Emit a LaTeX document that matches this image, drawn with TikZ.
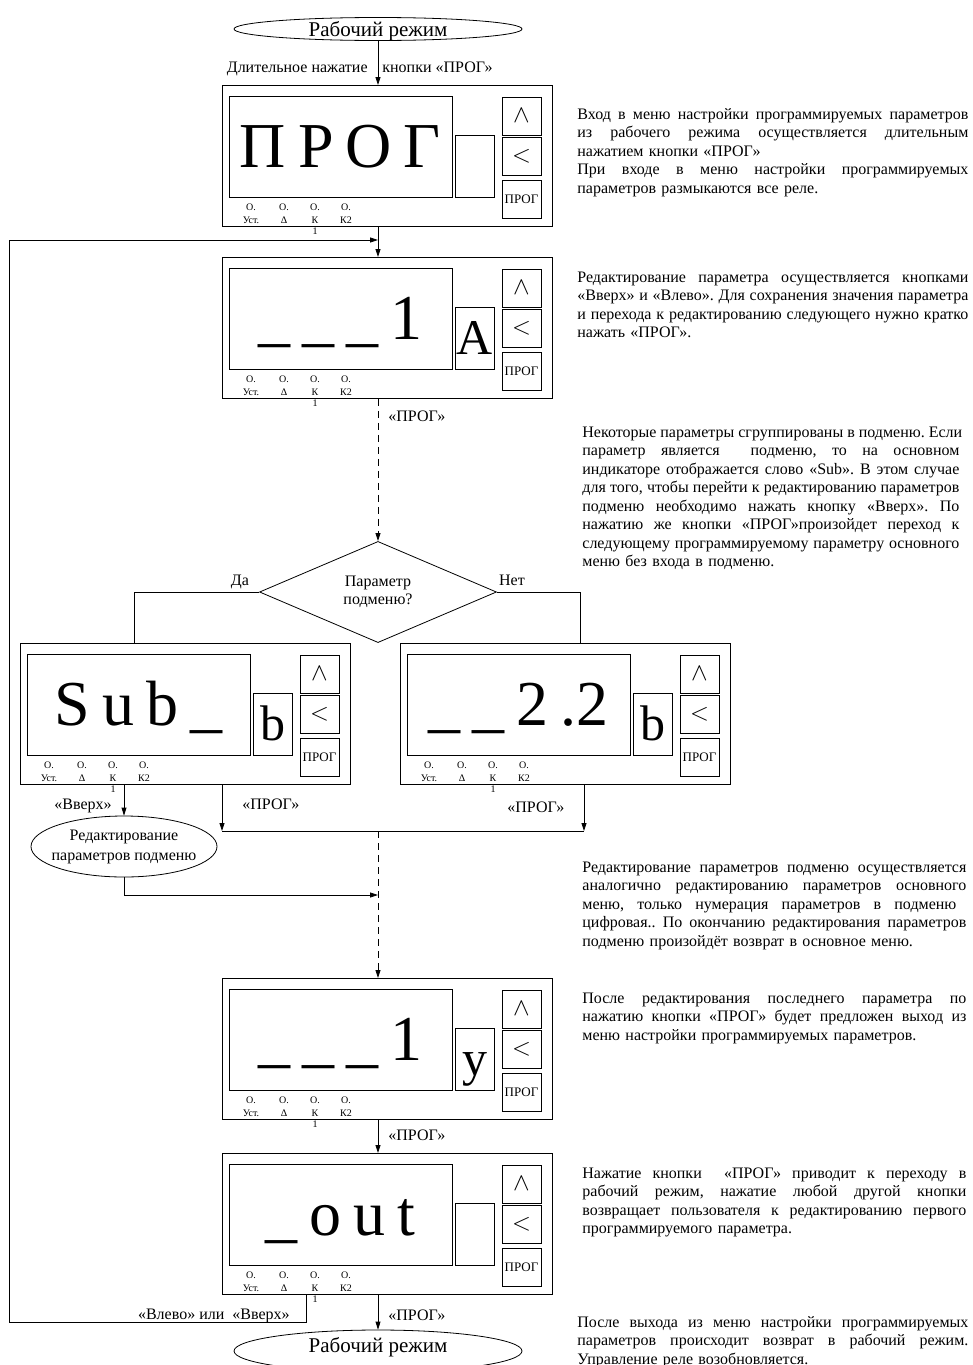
\documentclass[tikz,border=0pt]{standalone}
\usepackage{fontspec}
\setmainfont{Liberation Serif}
\usetikzlibrary{shapes.geometric,arrows.meta}
\newlength{\stroka}
\newcommand*{\jl}[1]{\leavevmode\hbox to\stroka{\spaceskip=\fontdimen2\font plus 1fil\relax #1}}
\newcommand*{\pribor}[5]{%
  \node[korpus] (#1) at (#2,#3) {};
  \begin{scope}[shift={(#2,#3)}]
    \node[tablo] (#1-tablo) at (118.5,61.5) {#4};
    \node[okno] (#1-okno) at (252.5,81) {#5};
    \node[knopka] (#1-up) at (299.5,31) {$\wedge$};
    \node[knopka] (#1-left) at (299.5,71.5) {$<$};
    \node[knopka, font=\fontsize{13}{13}\selectfont] (#1-prog) at (299.5,114) {ПРОГ};
    \foreach \x/\t [count=\i] in {29/Уст., 62/Δ, 93/{К\\1}, 124/К2}
    {
      \node[led] (#1-led\i) at (\x,125) {O.};
      \node[ledlabel] (#1-lab\i) at (\x,131.5) {\t};
    }
  \end{scope}}

\begin{document}
\begin{tikzpicture}[x=1pt, y=-1pt, line width=0.8pt]
  \tikzstyle{korpus}=[draw, anchor=north west, inner sep=0pt, minimum width=330pt, minimum height=141pt]
  \tikzstyle{tablo}=[draw, inner sep=0pt, minimum width=223pt, minimum height=101pt,
    text height=42pt, text depth=0pt, font={\fontsize{64}{64}\selectfont\spaceskip=12pt\relax}]
  \tikzstyle{okno}=[draw, inner sep=0pt, minimum width=39pt, minimum height=62pt,
    text height=33pt, text depth=0pt, font=\fontsize{50}{50}\selectfont]
  \tikzstyle{knopka}=[draw, inner sep=0pt, minimum width=39pt, minimum height=38pt, font=\fontsize{30}{30}\selectfont]
  \tikzstyle{led}=[anchor=base, inner sep=0pt, font=\fontsize{10}{12}\selectfont]
  \tikzstyle{ledlabel}=[anchor=north, inner sep=0pt, align=center, font=\fontsize{10}{11.5}\selectfont]
  \tikzstyle{lbl}=[inner sep=0pt, font=\fontsize{16}{18.5}\selectfont]
  \tikzset{desc/.style={anchor=base west, inner sep=0pt, align=left, text width=#1,
    font=\fontsize{16}{18.5}\selectfont\frenchspacing\setlength{\stroka}{#1}}}
  \tikzstyle{rezhim}=[draw, ellipse, inner sep=0pt, minimum width=288pt, minimum height=23pt,
    text height=14pt, text depth=0pt, font=\fontsize{21}{21}\selectfont]
  \tikzstyle{arr}=[-{Triangle[length=8pt,width=5pt]}]
  \tikzstyle{punktir}=[dash pattern=on 7pt off 5pt]

  \useasboundingbox (0,0) rectangle (973,1365);

  \coordinate (axis) at (378,0);
  \coordinate (loop) at (378,240);
  \coordinate (back) at (9,1322);
  \coordinate (kk) at (306,0);
  \coordinate (da) at (134,0);
  \coordinate (net) at (580,0);
  \coordinate (ml) at (222,831);
  \coordinate (mr) at (584,831);
  \coordinate (merge) at (378,831);
  \coordinate (join) at (378,895);

  \node[rezhim] (work1) at (378,29) {Рабочий режим};
  \pribor{b1}{222}{85}{П Р О Г}{}
  \pribor{b2}{222}{257}{\_ \_ \_ 1}{A}
  \node[draw, diamond, inner sep=0pt, minimum width=237pt, minimum height=89pt, align=center,
    font=\fontsize{16}{18.5}\selectfont] (q) at (378,592) {Параметр\\подменю?};
  \pribor{bs}{20}{643}{S u b \_}{b}
  \pribor{bd}{400}{643}{\_ \_ 2 .2}{b}
  \node[draw, ellipse, inner xsep=-8pt, inner ysep=0pt, minimum width=186pt, minimum height=61pt,
    align=center, font=\fontsize{16}{20}\selectfont] (subedit) at (124,846.5) {Редактирование\\параметров подменю};
  \pribor{b5}{222}{978}{\_ \_ \_ 1}{y}
  \pribor{b6}{222}{1153}{\_ o u t}{}
  \node[rezhim, minimum height=42pt, text depth=12pt] (work2) at (378,1351) {Рабочий режим};

  \draw[arr] (work1) -- (work1 |- b1.north);
  \draw[arr] (b1.south -| axis) -- (b2.north -| axis);
  \draw[arr] (b6.south -| kk) |- (back) -- (back |- loop) -- (loop);
  \draw[arr, punktir] (b2.south -| axis) -- (q.north);
  \draw (q.west) -| (bs.north -| da);
  \draw (q.east) -| (bd.north -| net);
  \draw[arr] (bs.south -| subedit) -- (subedit);
  \draw[arr] (bs.south -| ml) -- (ml);
  \draw[arr] (bd.south -| mr) -- (mr);
  \draw (ml) -- (mr);
  \draw[arr, punktir] (merge) -- (b5.north -| merge);
  \draw[arr] (subedit) |- (join);
  \draw[arr] (b5.south -| axis) -- (b6.north -| axis);
  \draw[arr] (b6.south -| axis) -- (work2);

  \node[lbl, anchor=base east] (dlit) at (368,72) {Длительное нажатие};
  \node[lbl, anchor=base west] (knop) at (382,72) {кнопки «ПРОГ»};
  \node[lbl, anchor=base west] (p1) at (388,421) {«ПРОГ»};
  \node[lbl, anchor=base] (yes) at (240,585) {Да};
  \node[lbl, anchor=base] (no) at (512,585) {Нет};
  \node[lbl, anchor=base east] (up1) at (112,809) {«Вверх»};
  \node[lbl, anchor=base west] (p2) at (242,809) {«ПРОГ»};
  \node[lbl, anchor=base west] (p3) at (507,812) {«ПРОГ»};
  \node[lbl, anchor=base west] (p4) at (388,1140) {«ПРОГ»};
  \node[lbl, anchor=base west] (p5) at (388,1320) {«ПРОГ»};
  \node[lbl, anchor=base east] (ret) at (290,1319) {«Влево» или\ \ «Вверх»};

  \node[desc=391pt] (d1) at (577,119) {\jl{Вход в меню настройки программируемых параметров}\\
    \jl{из рабочего режима осуществляется длительным}\\
    нажатием кнопки «ПРОГ»\\
    \jl{При входе в меню настройки программируемых}\\
    параметров размыкаются все реле.};
  \node[desc=391pt] (d2) at (577,282) {\jl{Редактирование параметра осуществляется кнопками}\\
    \jl{«Вверх» и «Влево». Для сохранения значения параметра}\\
    \jl{и перехода к редактированию следующего нужно кратко}\\
    нажать «ПРОГ».};
  \node[desc=377pt] (d3) at (582,437) {\jl{Некоторые параметры сгруппированы в подменю. Если}\\
    \jl{параметр является\ \ подменю, то на основном}\\
    \jl{индикаторе отображается слово «Sub». В этом случае}\\
    \jl{для того, чтобы перейти к редактированию параметров}\\
    \jl{подменю необходимо нажать кнопку «Вверх». По}\\
    \jl{нажатию же кнопки «ПРОГ»произойдет переход к}\\
    \jl{следующему программируемому параметру основного}\\
    меню без входа в подменю.};
  \node[desc=384pt] (d4) at (582,872) {\jl{Редактирование параметров подменю осуществляется}\\
    \jl{аналогично редактированию параметров основного}\\
    \jl{меню, только нумерация параметров в подменю\hspace{10pt}}\\
    \jl{цифровая.. По окончанию редактирования параметров}\\
    подменю произойдёт возврат в основное меню.};
  \node[desc=384pt] (d5) at (582,1003) {\jl{После редактирования последнего параметра по}\\
    \jl{нажатию кнопки «ПРОГ» будет предложен выход из}\\
    меню настройки программируемых параметров.};
  \node[desc=384pt] (d6) at (582,1178) {\jl{Нажатие кнопки\ \ «ПРОГ» приводит к переходу в}\\
    \jl{рабочий режим, нажатие любой другой кнопки}\\
    \jl{возвращает пользователя к редактированию первого}\\
    программируемого параметра.};
  \node[desc=391pt] (d7) at (577,1327) {\jl{После выхода из меню настройки программируемых}\\
    \jl{параметров происходит возврат в рабочий режим.}\\
    Управление реле возобновляется.};
\end{tikzpicture}
\end{document}
